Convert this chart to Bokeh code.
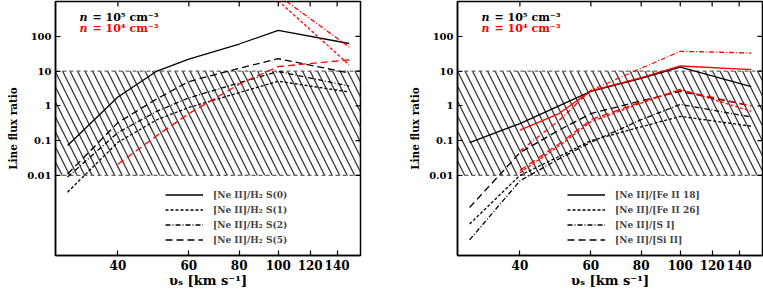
import math
from bokeh.plotting import figure
from bokeh.models import FixedTicker, Span, BoxAnnotation, Label, Legend, LegendItem
from bokeh.layouts import row
from bokeh.embed import file_html
from bokeh.resources import INLINE

# ---------------- data ----------------
v_all = [30, 40, 50, 60, 80, 100, 150]
v_from40 = [40, 50, 60, 80, 100, 150]
v_high = [100, 150]

# left panel: [Ne II]/H2, n = 1e5 (black)
neii_h2s0_n5 = [0.073, 1.8, 10, 22, 60, 148, 62]
neii_h2s1_n5 = [0.0033, 0.09, 0.4, 0.9, 2.4, 5.1, 2.5]
neii_h2s2_n5 = [0.009, 0.17, 0.7, 1.7, 4.6, 9.8, 3.7]
neii_h2s5_n5 = [0.011, 0.33, 1.6, 5.0, 12, 22.7, 8.8]
# left panel, n = 1e4 (red)
neii_h2s1_n4 = [1050, 15]
neii_h2s2_n4 = [1500, 49]
neii_h2s5_n4 = [0.021, 0.14, 0.6, 4.2, 13.5, 21]

# right panel, n = 1e5 (black)
neii_fe18_n5 = [0.088, 0.31, 1.0, 2.6, 6.2, 13, 3.6]
neii_fe26_n5 = [0.0004, 0.01, 0.035, 0.1, 0.25, 0.5, 0.26]
neii_si_n5 = [0.00014, 0.007, 0.03, 0.09, 0.4, 1.1, 0.48]
neii_sii_n5 = [0.0012, 0.045, 0.2, 0.6, 1.4, 2.6, 1.0]
# right panel, n = 1e4 (red)
neii_fe18_n4 = [0.2, 0.6, 2.7, 6.5, 14, 11]
neii_fe26_n4 = [0.012, 0.07, 0.35, 1.2, 3.0, 0.7]
neii_si_n4 = [0.05, 0.38, 2.8, 12, 37, 33]
neii_sii_n4 = [0.014, 0.08, 0.4, 1.3, 2.8, 1.0]

left_labels = ["[Ne II]/H\u2082 S(0)", "[Ne II]/H\u2082 S(1)",
               "[Ne II]/H\u2082 S(2)", "[Ne II]/H\u2082 S(5)"]
right_labels = ["[Ne II]/[Fe II 18]", "[Ne II]/[Fe II 26]",
                "[Ne II]/[S I]", "[Ne II]/[Si II]"]

x_ticks = [40, 60, 80, 100, 120, 140]
x_tick_labels = ["40", "60", "80", "100", "120", "140"]
y_ticks = [0.01, 0.1, 1, 10, 100]
y_tick_labels = ["0.01", "0.1", "1", "10", "100"]
hatch_band = (0.01, 10)

x_range = (28, 160)
y_range = (5e-5, 1000)

FONT = "DejaVu Serif"
DASH = {"solid": "solid", "short": "3 2", "dashdot": "5 2 1 2", "long": "7 4"}


def make_panel(width, border_left, border_right, black, red, labels):
    p = figure(width=width, height=290, x_axis_type="log", y_axis_type="log",
               x_range=x_range, y_range=y_range, output_backend="svg",
               toolbar_location=None, min_border_left=border_left,
               min_border_right=border_right, min_border_top=1,
               min_border_bottom=35)
    p.grid.visible = False
    p.outline_line_color = "black"
    p.outline_line_width = 1.5
    p.background_fill_color = "white"

    band = BoxAnnotation(bottom=hatch_band[0], top=hatch_band[1], fill_color=None,
                         line_color=None, hatch_pattern="\\", hatch_scale=15,
                         hatch_weight=1.3, hatch_color="#3a3a3a", level="underlay")
    p.add_layout(band)
    for loc in hatch_band:
        p.add_layout(Span(location=loc, dimension="width", line_color="#666666",
                          line_dash="4 3", line_width=1.2, level="underlay"))

    renderers = []
    for (xs, ys, st) in black:
        r = p.line(xs, ys, line_color="black", line_width=1.3, line_dash=DASH[st])
        renderers.append(r)
    for (xs, ys, st) in red:
        p.line(xs, ys, line_color="#ff0000", line_width=1.3, line_dash=DASH[st])

    # mirrored inward ticks on the top and right frame edges
    p.scatter(x_ticks, [y_range[1]] * len(x_ticks), marker="dash", angle=math.pi / 2,
              size=10, line_color="black", line_width=1.2)
    p.scatter([x_range[1]] * len(y_ticks), y_ticks, marker="dash",
              size=10, line_color="black", line_width=1.2)

    xo = dict(zip(x_ticks, x_tick_labels))
    yo = dict(zip(y_ticks, y_tick_labels))
    for ax in (p.xaxis[0], p.yaxis[0]):
        ax.major_tick_in = 5
        ax.major_tick_out = 0
        ax.minor_tick_line_color = None
        ax.axis_line_width = 1.5
        ax.major_tick_line_width = 1.2
        ax.major_label_text_font = FONT
        ax.major_label_text_font_style = "bold"
        ax.major_label_text_color = "black"
        ax.axis_label_text_font = FONT
        ax.axis_label_text_font_style = "bold"
        ax.axis_label_text_color = "black"
    p.xaxis[0].ticker = FixedTicker(ticks=x_ticks)
    p.xaxis[0].major_label_overrides = xo
    p.xaxis[0].major_label_text_font_size = "12px"
    p.xaxis[0].major_label_standoff = 4
    p.xaxis[0].axis_label = "\u03c5\u209b [km s\u207b\u00b9]"
    p.xaxis[0].axis_label_text_font_size = "13px"
    p.xaxis[0].axis_label_standoff = 0
    p.yaxis[0].ticker = FixedTicker(ticks=y_ticks)
    p.yaxis[0].major_label_overrides = yo
    p.yaxis[0].major_label_text_font_size = "10px"
    p.yaxis[0].major_label_standoff = 4
    p.yaxis[0].axis_label = "Line flux ratio"
    p.yaxis[0].axis_label_text_font_size = "10.5px"
    p.yaxis[0].axis_label_standoff = 5

    legend = Legend(items=[LegendItem(label=l, renderers=[r]) for l, r in zip(labels, renderers)],
                    location=(110, 8), border_line_color=None, background_fill_alpha=0,
                    padding=0, margin=0, spacing=0, glyph_width=38, glyph_height=15,
                    label_height=15, label_standoff=10, label_text_font=FONT,
                    label_text_font_style="bold", label_text_font_size="9px")
    p.add_layout(legend)

    for (yy, col, txt) in [(238, "black", "= 10\u2075 cm\u207b\u00b3"),
                           (227, "#ff0000", "= 10\u2074 cm\u207b\u00b3")]:
        p.add_layout(Label(x=24, y=yy, x_units="screen", y_units="screen", text="n",
                           text_font=FONT, text_font_style="bold italic",
                           text_font_size="11px", text_baseline="middle", text_color=col))
        p.add_layout(Label(x=37, y=yy, x_units="screen", y_units="screen", text=txt,
                           text_font=FONT, text_font_style="bold", text_font_size="11px",
                           text_baseline="middle", text_color=col))
    return p


left_black = [(v_all, neii_h2s0_n5, "solid"), (v_all, neii_h2s1_n5, "short"),
              (v_all, neii_h2s2_n5, "dashdot"), (v_all, neii_h2s5_n5, "long")]
left_red = [(v_high, neii_h2s1_n4, "short"), (v_high, neii_h2s2_n4, "dashdot"),
            (v_from40, neii_h2s5_n4, "long")]
right_black = [(v_all, neii_fe18_n5, "solid"), (v_all, neii_fe26_n5, "short"),
               (v_all, neii_si_n5, "dashdot"), (v_all, neii_sii_n5, "long")]
right_red = [(v_from40, neii_fe18_n4, "solid"), (v_from40, neii_fe26_n4, "short"),
             (v_from40, neii_si_n4, "dashdot"), (v_from40, neii_sii_n4, "long")]

p1 = make_panel(380, 55, 20, left_black, left_red, left_labels)
p2 = make_panel(383, 77, 1, right_black, right_red, right_labels)

layout = row(p1, p2, spacing=0)
layout.styles = {"position": "absolute", "left": "0px", "top": "0px"}

open("out.html", "w").write(file_html(layout, INLINE))
